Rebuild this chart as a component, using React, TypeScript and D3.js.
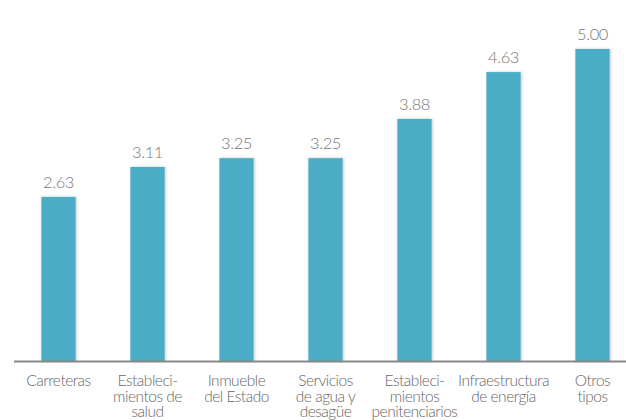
import React from "react";
import * as d3 from "d3";

const categories: string[][] = [
  ["Carreteras"],
  ["Estableci-", "mientos de", "salud"],
  ["Inmueble", "del Estado"],
  ["Servicios", "de agua y", "desagüe"],
  ["Estableci-", "mientos", "penitenciarios"],
  ["Infraestructura", "de energía"],
  ["Otros", "tipos"],
];
const values: number[] = [2.63, 3.11, 3.25, 3.25, 3.88, 4.63, 5.0];

const W = 626;
const H = 420;
const baseY = 361;
const FONT = "Lato, 'Open Sans', sans-serif";

export default function App() {
  const ids = categories.map((_, i) => String(i));
  const x = d3.scaleBand<string>().domain(ids).range([14, 637]).paddingInner(0.615).paddingOuter(0.3075);
  const y = d3.scaleLinear().domain([0, 5]).range([baseY, 49]);
  return (
    <svg width={W} height={H} style={{ position: "absolute", left: 0, top: 0 }}>
      <defs>
        <filter id="sh" x="-30%" y="-10%" width="160%" height="120%">
          <feDropShadow dx="1" dy="0" stdDeviation="1.5" floodColor="#000" floodOpacity="0.22" />
        </filter>
      </defs>
      <rect x={0} y={0} width={W} height={H} fill="#fff" />
      {values.map((v, i) => {
        const bx = x(String(i))!;
        return (
          <g key={i}>
            <rect x={bx} y={y(v)} width={x.bandwidth()} height={baseY - y(v)} fill="#4BACC6" filter="url(#sh)" />
            <text x={bx + x.bandwidth() / 2} y={y(v) - 9} textAnchor="middle" fontFamily={FONT} fontWeight={300} fontSize={16.5} letterSpacing={-0.4} fill="#777">
              {v.toFixed(2)}
            </text>
          </g>
        );
      })}
      <line x1={14} x2={W} y1={baseY + 0.5} y2={baseY + 0.5} stroke="#888" strokeWidth={2} />
      {categories.map((lines, i) => {
        const cx = x(String(i))! + x.bandwidth() / 2;
        return (
          <text key={i} x={cx} y={386} textAnchor="middle" fontFamily={FONT} fontWeight={300} fontSize={15.5} letterSpacing={-0.5} fill="#666">
            {lines.map((l, j) => (
              <tspan key={j} x={cx} dy={j === 0 ? 0 : 15.5}>
                {l}
              </tspan>
            ))}
          </text>
        );
      })}
    </svg>
  );
}
